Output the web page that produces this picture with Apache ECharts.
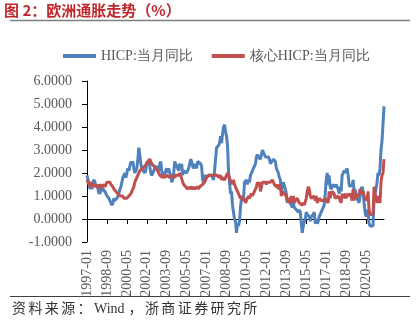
<!DOCTYPE html>
<html>
<head>
<meta charset="utf-8">
<script src="https://cdn.jsdelivr.net/npm/echarts@6/dist/echarts.min.js"></script>
<style>
  html, body { margin: 0; padding: 0; background: #fff; }
  #chart { width: 418px; height: 327px; }
</style>
</head>
<body>
<div id="chart"></div>
<script>
// Monthly series, 1997-01 .. 2021-11 (year-on-year, %)
const startYear = 1997;
const monthCount = 299;

const hicp = [
  1.9,1.7,1.6,1.3,1.5,1.3,1.6,1.7,1.6,1.4,1.5,1.5,
  1.1,1.1,1.2,1.4,1.3,1.3,1.2,1.1,1.0,1.0,0.9,0.8,
  0.7,0.6,0.7,0.9,0.8,0.8,0.9,1.0,1.1,1.3,1.4,1.6,
  1.8,1.9,2.0,1.8,1.8,2.2,2.1,2.1,2.5,2.4,2.5,2.2,
  2.0,2.0,2.2,2.6,3.1,2.8,2.4,2.2,2.2,2.2,2.0,2.1,
  2.5,2.4,2.5,2.3,2.0,1.9,1.9,2.1,2.1,2.3,2.3,2.3,
  2.1,2.4,2.5,2.1,1.8,1.9,1.9,2.1,2.2,2.0,2.2,2.0,
  1.9,1.6,1.7,2.0,2.5,2.4,2.3,2.3,2.1,2.4,2.2,2.4,
  1.9,2.1,2.1,2.1,2.0,2.1,2.2,2.2,2.6,2.5,2.3,2.2,
  2.4,2.3,2.2,2.5,2.5,2.5,2.4,2.3,1.7,1.6,1.9,1.9,
  1.8,1.8,1.9,1.9,1.9,1.9,1.8,1.7,2.1,2.6,3.1,3.1,
  3.2,3.3,3.6,3.3,3.7,4.0,4.1,3.8,3.6,3.2,2.1,1.6,
  1.1,1.2,0.6,0.6,0.0,-0.1,-0.6,-0.2,-0.3,-0.1,0.5,0.9,
  0.9,0.8,1.6,1.6,1.7,1.5,1.7,1.6,1.9,1.9,1.9,2.2,
  2.3,2.4,2.7,2.8,2.7,2.7,2.6,2.6,3.0,3.0,3.0,2.7,
  2.7,2.7,2.7,2.6,2.4,2.4,2.4,2.6,2.6,2.5,2.2,2.2,
  2.0,1.8,1.7,1.2,1.4,1.6,1.6,1.3,1.1,0.7,0.9,0.8,
  0.7,0.7,0.5,0.7,0.5,0.5,0.4,0.4,0.3,0.4,0.3,-0.2,
  -0.6,-0.3,-0.1,0.0,0.3,0.2,0.2,0.1,-0.1,0.1,0.1,0.2,
  0.3,-0.2,0.0,-0.2,-0.1,0.1,0.2,0.2,0.4,0.5,0.6,1.1,
  1.7,2.0,1.5,1.9,1.4,1.3,1.3,1.5,1.5,1.4,1.5,1.4,
  1.3,1.1,1.4,1.2,1.9,2.0,2.1,2.0,2.1,2.2,1.9,1.5,
  1.4,1.5,1.4,1.7,1.2,1.3,1.0,1.0,0.8,0.7,1.0,1.3,
  1.4,1.2,0.7,0.3,0.1,0.3,0.4,-0.2,-0.3,-0.3,-0.3,-0.3,
  0.9,0.9,1.3,1.6,2.0,1.9,2.2,3.0,3.4,4.1,4.9
];

const coreHicp = [
  1.7,1.6,1.5,1.4,1.6,1.5,1.5,1.4,1.5,1.5,1.4,1.5,
  1.3,1.5,1.5,1.4,1.4,1.5,1.4,1.5,1.6,1.6,1.6,1.6,
  1.5,1.5,1.4,1.3,1.3,1.2,1.2,1.1,1.1,1.0,1.0,1.0,
  1.0,0.9,0.9,0.9,0.9,0.9,1.0,1.0,1.1,1.2,1.3,1.4,
  1.6,1.7,1.8,1.9,2.0,2.1,2.1,2.1,2.2,2.2,2.3,2.3,
  2.4,2.5,2.5,2.6,2.5,2.4,2.4,2.3,2.3,2.2,2.2,2.1,
  2.0,1.9,1.9,1.9,1.8,1.9,1.8,1.8,1.9,1.9,1.9,1.8,
  1.9,1.9,1.8,1.9,1.8,1.9,1.9,1.9,1.9,2.0,1.9,1.9,
  1.6,1.5,1.5,1.4,1.4,1.3,1.4,1.3,1.4,1.4,1.3,1.4,
  1.3,1.3,1.3,1.4,1.3,1.4,1.4,1.4,1.5,1.5,1.6,1.6,
  1.8,1.8,1.9,1.9,1.9,1.9,1.9,1.9,1.9,1.9,1.9,1.9,
  1.8,1.8,1.9,1.7,1.8,1.8,1.7,1.8,1.9,2.0,1.9,1.8,
  1.6,1.7,1.5,1.7,1.5,1.4,1.3,1.2,1.1,1.0,0.9,1.0,
  0.9,0.8,0.9,0.7,0.8,0.9,1.0,0.9,1.0,1.1,1.0,1.1,
  1.1,1.1,1.4,1.6,1.5,1.6,1.2,1.2,1.6,1.6,1.6,1.6,
  1.5,1.6,1.6,1.6,1.6,1.6,1.7,1.7,1.5,1.5,1.4,1.5,
  1.3,1.3,1.5,1.0,1.2,1.2,1.1,1.1,1.0,0.8,0.9,0.7,
  0.8,1.0,0.7,1.0,0.7,0.8,0.8,0.9,0.8,0.7,0.7,0.7,
  0.6,0.7,0.6,0.6,0.9,1.2,1.4,1.3,1.0,0.9,0.9,0.9,
  1.0,0.8,1.0,0.7,0.8,0.9,0.9,0.8,0.8,0.8,0.8,0.9,
  0.9,0.9,0.7,1.2,0.9,1.1,1.2,1.2,1.1,0.9,0.9,0.9,
  1.0,1.0,1.0,0.7,1.1,0.9,1.1,1.0,0.9,1.1,1.0,1.0,
  1.1,1.0,0.8,1.3,0.8,1.1,0.9,0.9,1.0,1.1,1.3,1.3,
  1.1,1.2,1.0,0.9,0.9,0.8,1.2,0.4,0.2,0.2,0.2,0.2,
  1.4,1.1,0.9,0.7,1.0,0.9,0.7,1.6,1.9,2.0,2.6
];

const seriesNames = ['HICP:当月同比', '核心HICP:当月同比'];
const seriesColors = ['#4F81BD', '#C0504D'];
const yTicks = { min: -1, max: 6, step: 1 };
const titleText = '图 2：欧洲通胀走势（%）';
const sourceText = '资料来源：Wind，浙商证券研究所';

// Month labels "YYYY-MM"
const months = [];
for (let i = 0; i < monthCount; i++) {
  const y = startYear + Math.floor(i / 12);
  const m = (i % 12) + 1;
  months.push(y + '-' + (m < 10 ? '0' + m : m));
}

const serif = '"Liberation Serif", "Times New Roman", serif';
const axisText = { color: '#595959', fontFamily: serif, fontSize: 14 };

// Source line: CJK characters get a little extra tracking, Latin words stay together
const footFont = '14px "Liberation Serif", "Noto Sans CJK SC", serif';
const measureCtx = document.createElement('canvas').getContext('2d');
measureCtx.font = footFont;
const footRuns = sourceText.match(/[A-Za-z0-9]+|./gu);
const footGlyphs = [];
let footX = 12;
for (const run of footRuns) {
  footGlyphs.push({
    type: 'text', left: footX, top: 302,
    style: { text: run, fill: '#333', font: footFont }
  });
  footX += measureCtx.measureText(run).width + (/^[A-Za-z0-9]/.test(run) ? 4 : 2.4);
}

const chart = echarts.init(document.getElementById('chart'), null, { renderer: 'canvas' });

chart.setOption({
  animation: false,
  backgroundColor: '#fff',
  graphic: [
    {
      type: 'text', left: 4, top: 3,
      style: { text: titleText, fill: '#C0272D', font: 'bold 15px "Noto Sans CJK SC", sans-serif' }
    },
    {
      type: 'line', shape: { x1: 10, y1: 20.5, x2: 410, y2: 20.5 },
      style: { stroke: '#7f7f7f', lineWidth: 1.5 }
    },
    {
      type: 'line', shape: { x1: 10, y1: 296.5, x2: 410, y2: 296.5 },
      style: { stroke: '#404040', lineWidth: 1 }
    }
  ].concat(footGlyphs),
  legend: {
    left: 58, top: 44,
    icon: 'rect',
    itemWidth: 33, itemHeight: 4,
    itemGap: 19,
    textStyle: { color: '#595959', fontFamily: serif, fontSize: 14 },
    data: seriesNames
  },
  grid: { left: 87, right: 34, top: 81, bottom: 85, containLabel: false },
  xAxis: {
    type: 'category',
    data: months,
    boundaryGap: false,
    axisLine: { onZero: true, lineStyle: { color: '#000', width: 1 } },
    axisTick: { show: true, interval: 19, length: 5, lineStyle: { color: '#000' } },
    axisLabel: Object.assign({ interval: 19, rotate: 90, margin: 8 }, axisText),
    splitLine: { show: false }
  },
  yAxis: {
    type: 'value',
    min: yTicks.min, max: yTicks.max, interval: yTicks.step,
    axisLine: { show: true, lineStyle: { color: '#000', width: 1 } },
    axisTick: { show: true, length: 5, lineStyle: { color: '#000' } },
    axisLabel: Object.assign({ margin: 15, formatter: v => v.toFixed(4) }, axisText),
    splitLine: { show: false }
  },
  series: [
    {
      name: seriesNames[0], type: 'line', data: hicp,
      showSymbol: false, symbol: 'none',
      lineStyle: { width: 3, color: seriesColors[0] },
      itemStyle: { color: seriesColors[0] },
      z: 2
    },
    {
      name: seriesNames[1], type: 'line', data: coreHicp,
      showSymbol: false, symbol: 'none',
      lineStyle: { width: 3, color: seriesColors[1] },
      itemStyle: { color: seriesColors[1] },
      z: 3
    }
  ]
});
</script>
</body>
</html>
